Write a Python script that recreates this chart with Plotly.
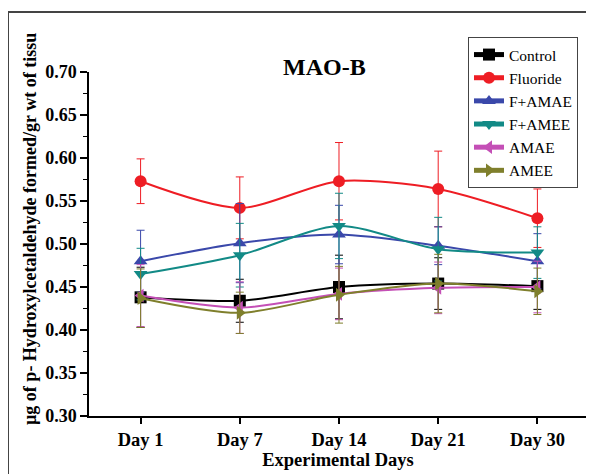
import plotly.graph_objects as go

days = ["Day 1", "Day 7", "Day 14", "Day 21", "Day 30"]

control = [0.438, 0.434, 0.450, 0.454, 0.451]
control_err = [0.035, 0.025, 0.037, 0.030, 0.027]

fluoride = [0.573, 0.542, 0.573, 0.564, 0.530]
fluoride_err = [0.026, 0.036, 0.045, 0.044, 0.034]

f_amae = [0.480, 0.501, 0.511, 0.498, 0.480]
f_amae_err = [0.036, 0.046, 0.034, 0.022, 0.032]

f_amee = [0.465, 0.487, 0.521, 0.494, 0.490]
f_amee_err = [0.030, 0.037, 0.038, 0.037, 0.030]

amae = [0.440, 0.426, 0.442, 0.449, 0.450]
amae_err = [0.036, 0.030, 0.030, 0.030, 0.030]

amee = [0.437, 0.420, 0.441, 0.454, 0.445]
amee_err = [0.034, 0.024, 0.033, 0.034, 0.027]

series = [
    ("Control", control, control_err, "#000000", "square"),
    ("Fluoride", fluoride, fluoride_err, "#ee1d24", "circle"),
    ("F+AMAE", f_amae, f_amae_err, "#3a48aa", "triangle-up"),
    ("F+AMEE", f_amee, f_amee_err, "#128a86", "triangle-down"),
    ("AMAE", amae, amae_err, "#c44fb6", "triangle-left"),
    ("AMEE", amee, amee_err, "#7f7f2c", "triangle-right"),
]

SERIF = "'Times New Roman', 'Liberation Serif', serif"

fig = go.Figure()
for name, vals, errs, color, sym in series:
    fig.add_trace(go.Scatter(
        x=list(range(len(days))), y=vals, name=name,
        mode="lines+markers",
        line=dict(color=color, width=2, shape="spline", smoothing=0.8),
        marker=dict(symbol=sym, size=12, color=color, line=dict(width=0)),
        error_y=dict(type="data", array=errs, visible=True, color=color,
                     thickness=1, width=4),
    ))

# page offset (browser body margin) is 8px; coordinates below are screenshot pixels
OFF = 8
W, H = 594 - OFF, 474 - OFF
L, R, T, B = 89 - OFF, 7, 72 - OFF, 58
pw, ph = W - L - R, H - T - B

def px(x):
    return (x - OFF - L) / pw

def py(y):
    return (H - B - (y - OFF)) / ph

fig.update_layout(
    width=W, height=H,
    margin=dict(l=L, r=R, t=T, b=B),
    paper_bgcolor="white", plot_bgcolor="white",
    font=dict(family=SERIF, color="black"),
    showlegend=True,
    legend=dict(
        x=px(468), y=py(37), xanchor="left", yanchor="top",
        bordercolor="#444444", borderwidth=1, bgcolor="white",
        font=dict(family=SERIF, size=15.5, color="black"),
        tracegroupgap=0, itemsizing="constant",
    ),
    xaxis=dict(
        range=[-0.52, 4.5],
        tickmode="array", tickvals=list(range(len(days))), ticktext=days,
        showgrid=False, zeroline=False,
        showline=True, linecolor="black", linewidth=1.5,
        ticks="outside", ticklen=6, tickcolor="black", tickwidth=1.5,
        tickfont=dict(family=SERIF, size=18.5, color="black", weight="bold"),
        title=dict(text="<b>Experimental Days</b>",
                   font=dict(family=SERIF, size=18.5, color="black"), standoff=4),
    ),
    yaxis=dict(
        range=[0.30, 0.70],
        tickmode="array",
        tickvals=[0.30, 0.35, 0.40, 0.45, 0.50, 0.55, 0.60, 0.65, 0.70],
        ticktext=["0.30", "0.35", "0.40", "0.45", "0.50", "0.55", "0.60", "0.65", "0.70"],
        showgrid=False, zeroline=False,
        showline=True, linecolor="black", linewidth=1.5,
        ticks="outside", ticklen=7, tickcolor="black", tickwidth=1.5,
        minor=dict(tickmode="linear", tick0=0.325, dtick=0.05, ticks="outside",
                   ticklen=4, tickcolor="black", tickwidth=1.2),
        tickfont=dict(family=SERIF, size=18, color="black", weight="bold"),
    ),
    annotations=[
        dict(text="<b>MAO-B</b>", xref="paper", yref="paper",
             x=px(324), y=py(67), xanchor="center", yanchor="middle",
             showarrow=False, font=dict(family=SERIF, size=24, color="black")),
        dict(text="<b>µg of p- Hydroxylcetaldehyde formed/gr wt of tissu</b>",
             xref="paper", yref="paper", textangle=-90,
             x=px(30), y=py(229), xanchor="center", yanchor="middle",
             showarrow=False, font=dict(family=SERIF, size=18, color="black")),
    ],
    shapes=[
        dict(type="line", xref="paper", yref="paper",
             x0=px(8), x1=px(8), y0=py(12), y1=py(480),
             line=dict(color="#444444", width=2)),
        dict(type="line", xref="paper", yref="paper",
             x0=px(8), x1=px(600), y0=py(12), y1=py(12),
             line=dict(color="#444444", width=2)),
    ],
)

fig.write_html("out.html")
